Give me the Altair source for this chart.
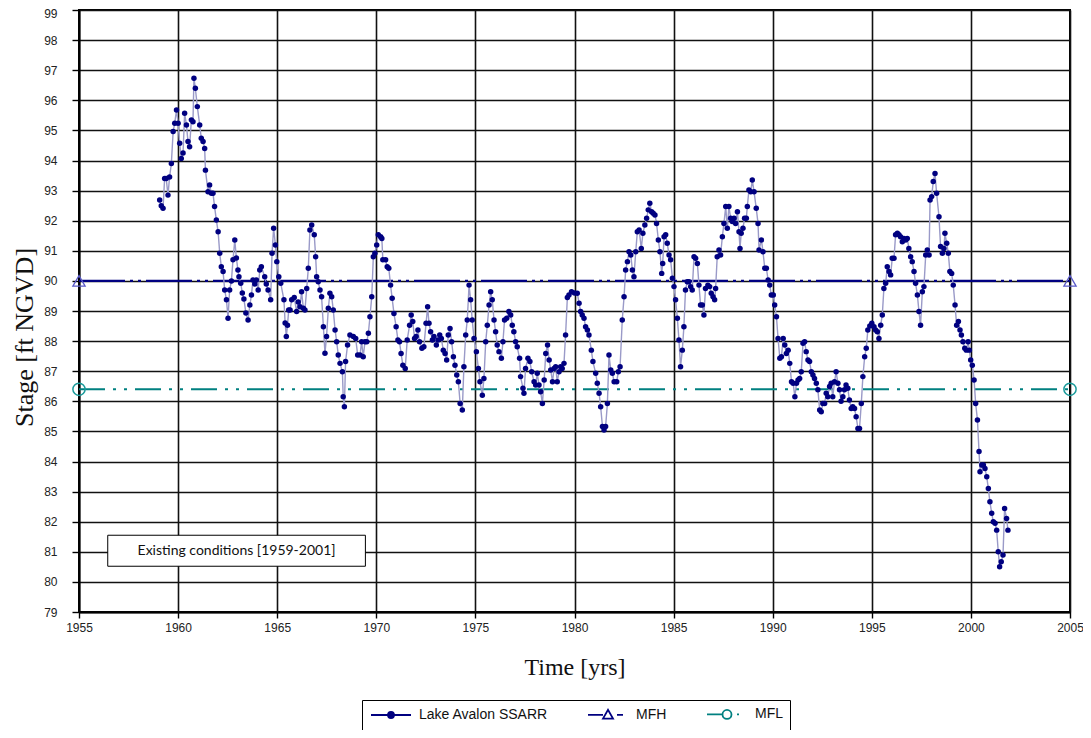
import altair as alt
import pandas as pd

# ---------------- data ----------------
years = [
    1959.07, 1959.15, 1959.24, 1959.32, 1959.40, 1959.49, 1959.57, 1959.66, 1959.75, 1959.83, 1959.92,
    1960.00, 1960.08, 1960.16, 1960.25, 1960.33, 1960.42, 1960.50, 1960.58, 1960.67, 1960.75, 1960.80,
    1960.87, 1960.97, 1961.09, 1961.17, 1961.26, 1961.34, 1961.38, 1961.51, 1961.59, 1961.68, 1961.76,
    1961.84, 1961.93, 1962.02, 1962.10, 1962.18, 1962.27, 1962.35, 1962.44, 1962.52, 1962.60, 1962.69,
    1962.77, 1962.86, 1962.94, 1963.02, 1963.07, 1963.16, 1963.24, 1963.32, 1963.42, 1963.53, 1963.62,
    1963.70, 1963.78, 1963.87, 1963.95, 1964.04, 1964.12, 1964.20, 1964.37, 1964.45, 1964.54, 1964.67,
    1964.74, 1964.82, 1964.91, 1964.98, 1965.08, 1965.18, 1965.34, 1965.40, 1965.46, 1965.52, 1965.58,
    1965.65, 1965.73, 1965.86, 1965.98, 1966.06, 1966.15, 1966.23, 1966.32, 1966.40, 1966.49, 1966.57,
    1966.65, 1966.74, 1966.87, 1966.94, 1966.99, 1967.07, 1967.16, 1967.24, 1967.33, 1967.41, 1967.49,
    1967.58, 1967.66, 1967.75, 1967.83, 1967.92, 1968.00, 1968.08, 1968.17, 1968.29, 1968.33, 1968.39,
    1968.45, 1968.55, 1968.67, 1968.84, 1968.96, 1969.06, 1969.18, 1969.26, 1969.34, 1969.43, 1969.52,
    1969.60, 1969.68, 1969.77, 1969.85, 1969.93, 1970.02, 1970.10, 1970.22, 1970.28, 1970.33, 1970.47,
    1970.55, 1970.63, 1970.72, 1970.80, 1970.89, 1971.00, 1971.09, 1971.17, 1971.25, 1971.34, 1971.46,
    1971.56, 1971.68, 1971.76, 1971.84, 1971.93, 1972.01, 1972.10, 1972.18, 1972.30, 1972.40, 1972.51,
    1972.59, 1972.66, 1972.74, 1972.83, 1972.91, 1973.03, 1973.11, 1973.20, 1973.28, 1973.38, 1973.47,
    1973.55, 1973.63, 1973.72, 1973.80, 1973.89, 1973.97, 1974.06, 1974.14, 1974.23, 1974.34, 1974.42,
    1974.51, 1974.59, 1974.68, 1974.76, 1974.84, 1974.93, 1975.05, 1975.15, 1975.23, 1975.35, 1975.43,
    1975.52, 1975.60, 1975.69, 1975.77, 1975.85, 1975.94, 1976.02, 1976.10, 1976.19, 1976.31, 1976.39,
    1976.47, 1976.58, 1976.69, 1976.78, 1976.86, 1976.94, 1977.03, 1977.11, 1977.23, 1977.28, 1977.40,
    1977.45, 1977.53, 1977.65, 1977.75, 1977.84, 1977.96, 1978.04, 1978.12, 1978.21, 1978.29, 1978.38,
    1978.47, 1978.55, 1978.64, 1978.72, 1978.80, 1978.89, 1978.97, 1979.05, 1979.13, 1979.22, 1979.30,
    1979.38, 1979.47, 1979.55, 1979.64, 1979.72, 1979.85, 1980.00, 1980.14, 1980.23, 1980.31, 1980.39,
    1980.48, 1980.56, 1980.65, 1980.73, 1980.85, 1980.93, 1981.07, 1981.15, 1981.24, 1981.32, 1981.41,
    1981.49, 1981.57, 1981.66, 1981.74, 1981.83, 1981.91, 1982.00, 1982.13, 1982.21, 1982.30, 1982.41,
    1982.50, 1982.58, 1982.67, 1982.75, 1982.84, 1982.92, 1983.00, 1983.09, 1983.17, 1983.26, 1983.37,
    1983.45, 1983.55, 1983.64, 1983.72, 1983.80, 1983.89, 1983.97, 1984.06, 1984.14, 1984.23, 1984.31,
    1984.40, 1984.45, 1984.52, 1984.60, 1984.68, 1984.77, 1984.85, 1984.94, 1985.02, 1985.10, 1985.19,
    1985.27, 1985.35, 1985.44, 1985.52, 1985.60, 1985.69, 1985.77, 1985.86, 1985.94, 1986.03, 1986.11,
    1986.20, 1986.28, 1986.36, 1986.45, 1986.53, 1986.61, 1986.73, 1986.82, 1986.90, 1986.99, 1987.07,
    1987.12, 1987.20, 1987.29, 1987.37, 1987.46, 1987.54, 1987.63, 1987.71, 1987.79, 1987.88, 1987.96,
    1988.05, 1988.13, 1988.22, 1988.30, 1988.35, 1988.41, 1988.50, 1988.58, 1988.67, 1988.72, 1988.80,
    1988.89, 1988.97, 1989.06, 1989.17, 1989.26, 1989.31, 1989.43, 1989.51, 1989.60, 1989.68, 1989.77,
    1989.85, 1989.93, 1990.03, 1990.10, 1990.19, 1990.27, 1990.36, 1990.44, 1990.53, 1990.61, 1990.69,
    1990.78, 1990.86, 1990.95, 1991.03, 1991.12, 1991.20, 1991.28, 1991.36, 1991.44, 1991.53, 1991.61,
    1991.69, 1991.78, 1991.86, 1991.95, 1992.03, 1992.11, 1992.20, 1992.28, 1992.37, 1992.45, 1992.53,
    1992.62, 1992.70, 1992.78, 1992.87, 1992.95, 1993.03, 1993.12, 1993.20, 1993.29, 1993.37, 1993.45,
    1993.54, 1993.62, 1993.70, 1993.79, 1993.87, 1993.96, 1994.04, 1994.13, 1994.21, 1994.30, 1994.38,
    1994.47, 1994.55, 1994.64, 1994.72, 1994.80, 1994.90, 1995.00, 1995.11, 1995.19, 1995.28, 1995.36,
    1995.45, 1995.53, 1995.61, 1995.70, 1995.78, 1995.87, 1995.95, 1996.03, 1996.12, 1996.20, 1996.29,
    1996.37, 1996.45, 1996.54, 1996.62, 1996.71, 1996.79, 1996.87, 1996.96, 1997.04, 1997.13, 1997.21,
    1997.30, 1997.38, 1997.46, 1997.55, 1997.63, 1997.72, 1997.80, 1997.89, 1997.94, 1998.02, 1998.10,
    1998.19, 1998.27, 1998.39, 1998.47, 1998.56, 1998.64, 1998.69, 1998.78, 1998.86, 1998.94, 1999.03,
    1999.11, 1999.20, 1999.28, 1999.37, 1999.45, 1999.52, 1999.60, 1999.69, 1999.77, 1999.86, 1999.92,
    1999.99, 2000.07, 2000.16, 2000.24, 2000.33, 2000.41, 2000.46, 2000.55, 2000.63, 2000.71, 2000.80,
    2000.88, 2000.96, 2001.05, 2001.13, 2001.22, 2001.30, 2001.38, 2001.45, 2001.53, 2001.62, 2001.70,
    2001.80, 2001.87,
]

stage = [
    92.69, 92.50, 92.41, 93.40, 93.40, 92.85, 93.45, 93.90, 94.96, 95.24, 95.68,
    95.24, 94.57, 94.07, 94.25, 95.57, 95.18, 94.63, 94.46, 95.35, 95.29, 96.73,
    96.40, 95.79, 95.18, 94.74, 94.63, 94.40, 93.68, 92.96, 93.19, 92.91, 92.91,
    92.47, 92.02, 91.63, 90.92, 90.47, 90.31, 89.70, 89.37, 88.76, 89.70, 90.00,
    90.70, 91.36, 90.76, 90.36, 90.14, 89.92, 89.60, 89.40, 88.93, 88.70, 89.20,
    89.53, 90.03, 89.90, 90.03, 89.70, 90.36, 90.47, 90.14, 89.90, 89.70, 89.37,
    90.92, 91.75, 91.19, 90.64, 90.14, 89.92, 89.37, 88.60, 88.15, 88.53, 89.03,
    89.03, 89.37, 89.45, 88.98, 89.30, 89.14, 89.64, 89.09, 89.03, 89.75, 90.42,
    91.69, 91.86, 91.53, 90.80, 90.14, 89.97, 89.70, 89.47, 88.48, 87.60, 88.15,
    89.09, 89.59, 89.47, 89.03, 88.37, 87.98, 87.54, 87.26, 86.98, 86.15, 85.82,
    87.32, 87.87, 88.20, 88.15, 88.09, 87.54, 87.54, 87.98, 87.48, 87.98, 87.98,
    88.26, 88.81, 89.47, 90.80, 90.92, 91.19, 91.53, 91.47, 91.41, 90.70, 90.70,
    90.47, 90.42, 89.86, 89.42, 88.92, 88.48, 88.04, 87.98, 87.59, 87.20, 87.09,
    88.04, 88.53, 88.87, 88.65, 88.09, 88.15, 88.37, 87.98, 87.76, 87.81, 88.59,
    89.14, 88.59, 88.31, 88.04, 88.15, 87.87, 88.04, 88.20, 88.09, 87.70, 87.59,
    87.37, 88.20, 88.42, 87.98, 87.48, 87.20, 86.87, 86.65, 85.93, 85.71, 87.15,
    88.20, 88.70, 89.86, 89.37, 88.70, 88.09, 87.65, 87.09, 86.65, 86.20, 86.76,
    87.98, 88.53, 89.20, 89.64, 89.37, 88.70, 88.31, 87.87, 87.65, 87.43, 87.98,
    88.70, 88.76, 88.98, 88.87, 88.53, 88.31, 87.98, 87.81, 87.43, 86.82, 86.43,
    86.27, 87.09, 87.43, 87.32, 86.98, 86.65, 86.54, 86.93, 86.54, 86.32, 85.93,
    86.71, 87.59, 87.87, 87.37, 87.04, 86.65, 87.09, 87.15, 86.65, 86.98, 87.15,
    87.09, 87.26, 88.20, 89.45, 89.53, 89.64, 89.60, 89.59, 89.26, 88.98, 88.87,
    88.76, 88.48, 88.37, 88.20, 87.70, 87.32, 86.93, 86.60, 86.27, 85.82, 85.16,
    85.05, 85.16, 85.93, 87.54, 87.04, 86.93, 86.65, 86.65, 86.98, 87.15, 88.70,
    89.47, 90.36, 90.64, 90.97, 90.86, 90.36, 90.14, 90.97, 91.63, 91.69, 91.08,
    91.58, 91.86, 92.08, 92.36, 92.58, 92.30, 92.25, 92.19, 91.91, 91.36, 90.97,
    90.25, 90.58, 91.47, 91.53, 91.25, 90.86, 90.70, 90.09, 89.81, 89.37, 88.76,
    88.04, 87.15, 87.70, 88.48, 89.70, 89.97, 89.97, 89.81, 89.70, 90.80, 90.75,
    90.58, 89.86, 89.20, 89.20, 88.87, 89.75, 89.86, 89.81, 89.59, 89.47, 89.37,
    89.75, 90.80, 91.03, 90.86, 91.47, 91.91, 92.47, 91.75, 92.47, 92.08, 91.97,
    92.08, 91.91, 92.30, 91.63, 91.08, 91.58, 91.75, 92.08, 92.08, 92.47, 93.02,
    92.96, 93.35, 92.96, 92.41, 91.91, 91.03, 91.36, 90.97, 90.42, 90.42, 90.03,
    89.86, 89.53, 89.53, 89.20, 88.81, 88.09, 87.43, 87.48, 88.09, 87.87, 87.59,
    87.70, 87.26, 86.65, 86.60, 86.15, 86.60, 86.71, 86.76, 86.98, 87.93, 87.98,
    87.65, 87.37, 87.32, 86.98, 86.87, 86.76, 86.60, 86.38, 85.71, 85.65, 85.93,
    85.93, 86.27, 86.15, 86.49, 86.60, 86.15, 86.65, 86.98, 86.60, 86.38, 86.00,
    86.15, 86.38, 86.54, 86.43, 86.04, 85.76, 85.82, 85.76, 85.49, 85.10, 85.10,
    85.93, 86.82, 87.48, 87.76, 88.37, 88.50, 88.59, 88.48, 88.37, 88.31, 88.09,
    88.53, 88.87, 89.75, 89.92, 90.47, 90.31, 90.20, 90.75, 90.75, 91.53, 91.58,
    91.53, 91.47, 91.30, 91.41, 91.36, 91.41, 91.08, 90.80, 90.64, 90.31, 89.92,
    89.53, 88.98, 88.53, 89.64, 89.81, 90.86, 91.03, 90.86, 92.69, 92.80, 93.30,
    93.57, 92.91, 92.13, 91.14, 90.92, 91.08, 91.58, 91.25, 90.92, 90.31, 90.25,
    89.86, 89.20, 88.53, 88.65, 88.37, 88.20, 87.98, 87.76, 87.70, 87.98, 87.70,
    87.37, 87.20, 86.71, 85.93, 85.38, 84.33, 83.66, 83.88, 83.88, 83.77, 83.49,
    83.10, 82.66, 82.28, 82.00, 81.95, 81.72, 81.00, 80.50, 80.67, 80.89, 82.44,
    82.11, 81.72,
]

ref_years = [1955, 2005]
mfh_level = 90.0
mfl_level = 86.4

series_names = ["Lake Avalon SSARR", "MFH", "MFL"]

x_ticks = list(range(1955, 2006, 5))
y_ticks = list(range(79, 100))

note_text = "Existing conditions [1959-2001]"
note_x = [1956.45, 1969.45]
note_y = [80.52, 81.55]

# ---------------- frames ----------------
df = pd.DataFrame({"year": years, "stage": stage})
mfh_df = pd.DataFrame({"year": ref_years, "stage": [mfh_level] * len(ref_years)})
mfl_df = pd.DataFrame({"year": ref_years, "stage": [mfl_level] * len(ref_years)})
legend_df = pd.DataFrame({"series": series_names, "year": [1950] * 3, "stage": [90] * 3})
note_df = pd.DataFrame({"x1": [note_x[0]], "x2": [note_x[1]], "y1": [note_y[0]], "y2": [note_y[1]],
                        "xm": [sum(note_x) / 2], "ym": [sum(note_y) / 2], "label": [note_text]})

x_scale = alt.Scale(domain=[1955, 2005], nice=False, zero=False)
y_scale = alt.Scale(domain=[79, 99], nice=False, zero=False)

x_axis = alt.Axis(values=x_ticks, format="d", title="Time [yrs]", labelFlush=False,
                  labelOverlap=False, tickSize=6, labelPadding=4,
                  titleBaseline="middle", titleY=55, titleFontSize=24)
y_axis = alt.Axis(values=y_ticks, format="d", title="Stage [ft NGVD]", labelFlush=False,
                  labelOverlap=False, tickSize=7, labelPadding=15,
                  labelOffset={"expr": "datum.value == 99 ? 3 : 0"},
                  titleBaseline="middle", titleX=-55, titleY=327, titleAngle=-90,
                  titleFontSize=26)

X = alt.X("year:Q", scale=x_scale, axis=x_axis)
Y = alt.Y("stage:Q", scale=y_scale, axis=y_axis)

mfl_line = alt.Chart(mfl_df).mark_line(color="#008080", strokeWidth=2.2,
                                       strokeDash=[26, 8, 3, 8, 3, 8]).encode(x=X, y=Y)
mfh_line = alt.Chart(mfh_df).mark_line(color="#000080", strokeWidth=2.2,
                                       strokeDash=[46, 5, 3, 5, 3, 5]).encode(x=X, y=Y)

# annotation box
note_box = alt.Chart(note_df).mark_rect(fill="white", stroke="black", strokeWidth=1).encode(
    x=alt.X("x1:Q", scale=x_scale, axis=x_axis),
    x2="x2:Q",
    y=alt.Y("y1:Q", scale=y_scale, axis=y_axis),
    y2="y2:Q",
)
note_label = alt.Chart(note_df).mark_text(font="Lato", fontSize=14, color="#111").encode(
    x=alt.X("xm:Q", scale=x_scale, axis=x_axis),
    y=alt.Y("ym:Q", scale=y_scale, axis=y_axis),
    text="label:N",
)

ssarr_line = alt.Chart(df).mark_line(color="#9a9ac8", strokeWidth=1.4).encode(x=X, y=Y)
ssarr_pts = alt.Chart(df).mark_circle(color="#000080", size=30, opacity=1).encode(x=X, y=Y)

mfh_ends = alt.Chart(mfh_df).mark_point(shape="triangle-up", filled=False, color="#5a5ac8",
                                        size=150, strokeWidth=1.3, opacity=1).encode(x=X, y=Y)
mfl_ends = alt.Chart(mfl_df).mark_point(shape="circle", filled=False, color="#1a9a9a",
                                        size=150, strokeWidth=1.5, opacity=1).encode(x=X, y=Y)

# legend-only layer (points lie outside the domain and are clipped)
# symbol size 100 -> 1 path unit = 5 px
p_ssarr = "M-4,0H4M0.6,0A0.6,0.6,0,1,1,-0.6,0A0.6,0.6,0,1,1,0.6,0"
p_mfh = "M-4,0H-1M-1,0.75L0,-1L1,0.75ZM1.8,0H3"
p_mfl = "M-4,0H-0.9M0.9,0A0.9,0.9,0,1,1,-0.9,0A0.9,0.9,0,1,1,0.9,0M2,0H2.4"
leg = alt.Legend(title=None, orient="none", legendX=283, legendY=690, direction="horizontal",
                 padding=7, strokeColor="black", fillColor="white", symbolStrokeWidth=1.8,
                 symbolSize=100, symbolOffset=15, labelOffset=21,
                 labelFont="Liberation Sans", labelFontSize=14,
                 labelColor="#111", columnPadding=36)
legend_layer = alt.Chart(legend_df).mark_point(clip=True, opacity=1, strokeWidth=1.8).encode(
    x=X, y=Y,
    shape=alt.Shape("series:N", scale=alt.Scale(domain=series_names, range=[p_ssarr, p_mfh, p_mfl]),
                    legend=leg),
    stroke=alt.Stroke("series:N", scale=alt.Scale(domain=series_names,
                                                  range=["#000080", "#000080", "#008080"]), legend=leg),
    fill=alt.Fill("series:N", scale=alt.Scale(domain=series_names,
                                              range=["#000080", "white", "white"]), legend=leg),
)

chart = alt.layer(
    mfl_line, mfh_line, note_box, note_label, ssarr_line, ssarr_pts, mfh_ends, mfl_ends, legend_layer
).properties(
    width=991, height=602,
    autosize=alt.AutoSizeParams(type="none"),
    padding={"left": 71, "top": 2, "right": 13, "bottom": 118},
).configure_view(
    stroke="black", strokeWidth=2
).configure_axis(
    grid=True, gridColor="#111111", gridWidth=1.6, gridOpacity=1,
    domainColor="black", domainWidth=2, tickColor="black", tickWidth=1.4,
    labelFont="Liberation Sans", labelFontSize=12, labelColor="#222222",
    titleFont="Liberation Serif", titleFontWeight="normal", titleColor="#111111",
)

chart.save("out.html", embed_options={"renderer": "svg", "actions": False})
